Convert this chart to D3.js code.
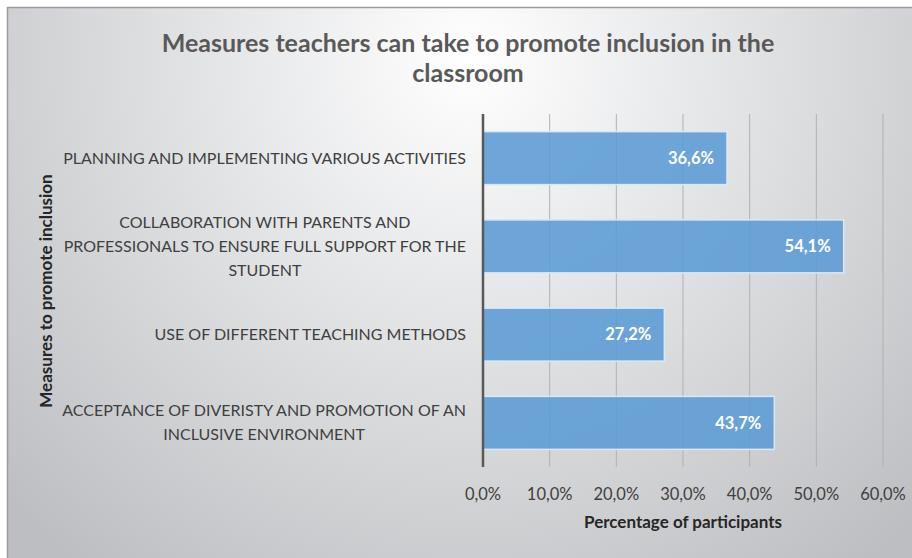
<!DOCTYPE html>
<html><head><meta charset="utf-8">
<script src="https://cdn.jsdelivr.net/npm/d3@7"></script>
<style>html,body{margin:0;padding:0;background:#fff;}svg{display:block;}</style>
</head><body>
<svg id="c" width="912" height="558"></svg>
<script>
const categories = [
  ["PLANNING AND IMPLEMENTING VARIOUS ACTIVITIES"],
  ["COLLABORATION WITH PARENTS AND", "PROFESSIONALS TO ENSURE FULL SUPPORT FOR THE", "STUDENT"],
  ["USE OF DIFFERENT TEACHING METHODS"],
  ["ACCEPTANCE OF DIVERISTY AND PROMOTION OF AN", "INCLUSIVE ENVIRONMENT"]
];
const values = [36.6, 54.1, 27.2, 43.7];
const xTicks = [0, 10, 20, 30, 40, 50, 60];
const title = ["Measures teachers can take to promote inclusion in the", "classroom"];
const xTitle = "Percentage of participants";
const yTitle = "Measures to promote inclusion";

(function(){
const fmt = v => v.toFixed(1).replace(".", ",") + "%";
const font = "Lato, 'Open Sans', sans-serif";
const svg = d3.select("#c");

const defs = svg.append("defs");
const rg = defs.append("radialGradient").attr("id","bg")
  .attr("gradientUnits","userSpaceOnUse").attr("cx",470).attr("cy",60).attr("r",640);
rg.append("stop").attr("offset","0").attr("stop-color","#ffffff");
rg.append("stop").attr("offset","0.4").attr("stop-color","#e4e5e7");
rg.append("stop").attr("offset","1").attr("stop-color","#bcbec1");

svg.append("rect").attr("x",7).attr("y",7).attr("width",912).attr("height",560)
  .attr("fill","url(#bg)");
svg.append("line").attr("x1",7.5).attr("x2",7.5).attr("y1",7).attr("y2",558).attr("stroke","#9a9a9a").attr("stroke-width",1.5);
svg.append("line").attr("x1",7).attr("x2",912).attr("y1",7.5).attr("y2",7.5).attr("stroke","#9a9a9a").attr("stroke-width",1.5);

const pL = 483, pR = 883, pT = 114, pB = 467;
const x = d3.scaleLinear().domain([0, 60]).range([pL, pR]);
const y = d3.scaleBand().domain(d3.range(categories.length)).range([pT, pB]).paddingInner(0.4).paddingOuter(0.2);

svg.append("g").selectAll("line").data(xTicks.filter(t => t > 0)).join("line")
  .attr("x1", d => x(d)).attr("x2", d => x(d)).attr("y1", pT).attr("y2", pB)
  .attr("stroke", "#b0b1b3").attr("stroke-width", 1);

svg.append("g").selectAll("rect").data(values).join("rect")
  .attr("x", x(0)).attr("y", (d,i) => y(i))
  .attr("width", d => x(d) - x(0)).attr("height", y.bandwidth())
  .attr("fill", "#5b9bd5").attr("fill-opacity", 0.88)
  .attr("stroke", "#dbe7f3").attr("stroke-width", 1.5);

svg.append("g").selectAll("text").data(values).join("text")
  .attr("x", d => x(d) - 13).attr("y", (d,i) => y(i) + y.bandwidth()/2)
  .attr("dy", "0.35em").attr("text-anchor", "end")
  .attr("font-family", font).attr("font-weight", "bold").attr("font-size", 16.5)
  .attr("fill", "#ffffff").text(d => fmt(d));

svg.append("line").attr("x1", pL).attr("x2", pL).attr("y1", pT).attr("y2", pB)
  .attr("stroke", "#595959").attr("stroke-width", 2.5);

const lh = 24, labelRight = 466;
const cg = svg.append("g");
categories.forEach((lines, i) => {
  const cy = y(i) + y.bandwidth()/2;
  const n = lines.length;
  const t = cg.append("text").attr("font-family", font).attr("font-size", 16)
    .attr("fill", "#404040").attr("text-anchor", "middle");
  const spans = lines.map((ln, j) =>
    t.append("tspan").attr("y", cy + (j - (n-1)/2) * lh).attr("dy", "0.35em").text(ln));
  const maxW = d3.max(spans, s => s.node().getComputedTextLength());
  spans.forEach(s => s.attr("x", labelRight - maxW/2));
});

svg.append("g").selectAll("text").data(xTicks).join("text")
  .attr("x", d => x(d)).attr("y", 494).attr("dy", "0.35em").attr("text-anchor", "middle")
  .attr("font-family", font).attr("font-size", 16.5).attr("fill", "#404040")
  .text(d => fmt(d));

svg.append("text").attr("x", 683).attr("y", 522).attr("dy", "0.35em").attr("text-anchor", "middle")
  .attr("font-family", font).attr("font-weight", "bold").attr("font-size", 17).attr("fill", "#262626")
  .text(xTitle);
svg.append("text").attr("transform", "translate(46,291) rotate(-90)").attr("dy", "0.35em")
  .attr("text-anchor", "middle").attr("font-family", font).attr("font-weight", "bold")
  .attr("font-size", 17).attr("fill", "#262626").text(yTitle);

svg.append("text").attr("text-anchor", "middle").attr("font-family", font).attr("font-weight", "bold")
  .attr("font-size", 25).attr("fill", "#595959")
  .selectAll("tspan").data(title).join("tspan")
  .attr("x", 468).attr("y", (d,i) => 43 + i*30).attr("dy", "0.35em").text(d => d);
})();
</script>
</body></html>
